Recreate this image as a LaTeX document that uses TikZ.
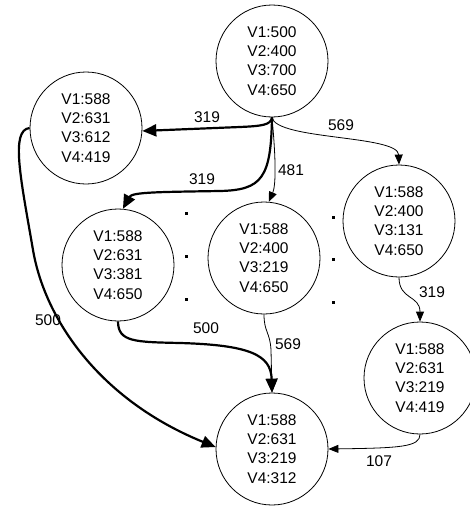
\documentclass[tikz,border=0pt]{standalone}
\usepackage{fontspec}
\setmainfont{Liberation Sans}
\usetikzlibrary{arrows.meta}
\begin{document}
\begin{tikzpicture}[x=1pt,y=-1pt,
  state/.style={draw, circle, minimum size=112pt, inner sep=0pt, align=center, line width=0.8pt, font=\fontsize{15.5}{19.3}\selectfont},
  lbl/.style={inner sep=0pt, font=\fontsize{15.5}{19.3}\selectfont},
  heavy/.style={line width=2.2pt, -{Triangle[length=14pt,width=12pt]}},
  light/.style={line width=0.8pt, -{Triangle[length=10pt,width=8pt]}},
  gapdot/.style={fill=black}]
\useasboundingbox (0,0) rectangle (469,506);
\node[state] (top) at (272,61) {V1:500\\V2:400\\V3:700\\V4:650};
\node[state] (left) at (86,128) {V1:588\\V2:631\\V3:612\\V4:419};
\node[state] (ml) at (118,265) {V1:588\\V2:631\\V3:381\\V4:650};
\node[state] (mid) at (264,258) {V1:588\\V2:400\\V3:219\\V4:650};
\node[state] (right) at (399,221) {V1:588\\V2:400\\V3:131\\V4:650};
\node[state] (rl) at (420,378) {V1:588\\V2:631\\V3:219\\V4:419};
\node[state] (bot) at (272,449) {V1:588\\V2:631\\V3:219\\V4:312};
% edges
\draw[heavy] (top.south) .. controls (271,125) and (262,126) .. (240,127) -- (left.-3);
\draw[heavy] (top.south) .. controls (271,178) and (262,190) .. (220,191) .. controls (160,192) and (132,192) .. (ml.85);
\draw[light] (top.south) .. controls (276,160) and (276,185) .. (mid.85);
\draw[light] (top.south) .. controls (276,140) and (398,135) .. (right.north);
\draw[light] (right.south) .. controls (399,300) and (420,295) .. (rl.north);
\draw[light] (rl.south) .. controls (420,447) and (400,448) .. (bot.east);
\draw[light] (mid.south) .. controls (264,332) and (270,332) .. (271,350) -- (bot.north);
\draw[heavy] (ml.south) .. controls (118,342) and (135,342) .. (180,343) .. controls (250,345) and (271,355) .. (bot.north);
\draw[heavy] (left.west) .. controls (10,130) and (21,180) .. (33,250) .. controls (45,320) and (100,400) .. (bot.178);
% labels
\node[lbl] (l1) at (207,117) {319};
\node[lbl] (l2) at (341,125) {569};
\node[lbl] (l3) at (291,170) {481};
\node[lbl] (l4) at (202,179) {319};
\node[lbl] (l5) at (48,320) {500};
\node[lbl] (l6) at (206,328) {500};
\node[lbl] (l7) at (288,344) {569};
\node[lbl] (l8) at (432,292) {319};
\node[lbl] (l9) at (379,461) {107};
% dots
\fill[gapdot] (184.5,211.5) rectangle +(3,3);
\fill[gapdot] (184.5,254.5) rectangle +(3,3);
\fill[gapdot] (184.5,297.5) rectangle +(3,3);
\fill[gapdot] (331.5,215.5) rectangle +(3,3);
\fill[gapdot] (331.5,257.5) rectangle +(3,3);
\fill[gapdot] (331.5,300.5) rectangle +(3,3);
\end{tikzpicture}
\end{document}
